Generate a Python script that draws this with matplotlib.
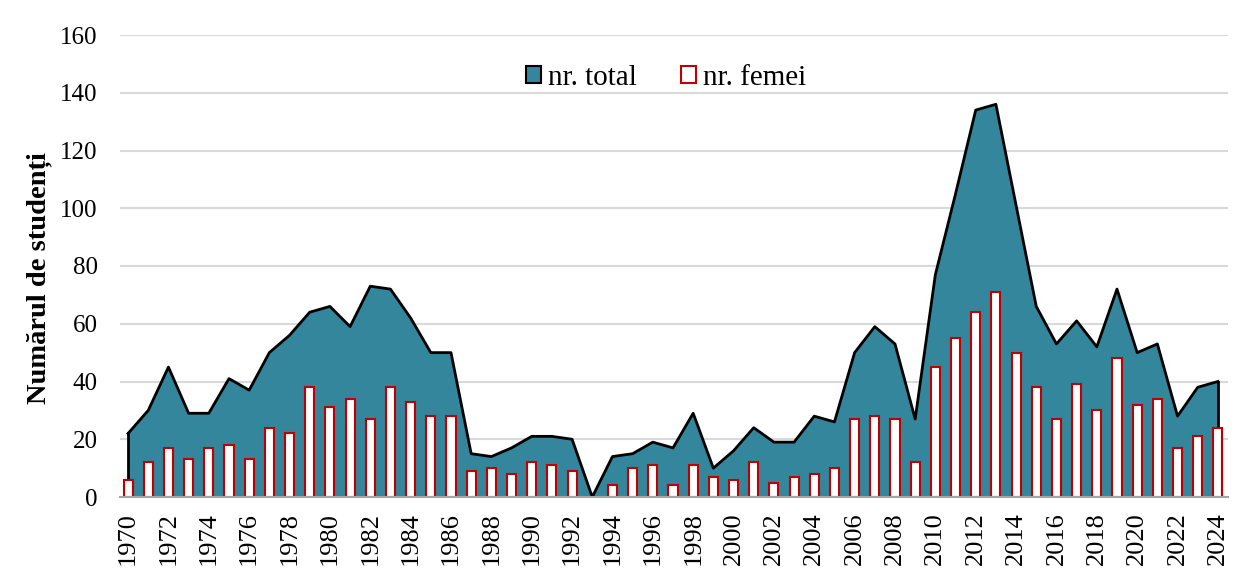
import matplotlib.pyplot as plt
import numpy as np
from matplotlib.patches import Patch

plt.rcParams['font.family'] = ['Liberation Serif', 'DejaVu Serif']

years = np.arange(1970, 2025)
total = [22, 30, 45, 29, 29, 41, 37, 50, 56, 64,
         66, 59, 73, 72, 62, 50, 50, 15, 14, 17,
         21, 21, 20, 0, 14, 15, 19, 17, 29, 10,
         16, 24, 19, 19, 28, 26, 50, 59, 53, 27,
         77, 105, 134, 136, 101, 66, 53, 61, 52, 72,
         50, 53, 28, 38, 40]
femei = [6, 12, 17, 13, 17, 18, 13, 24, 22, 38,
         31, 34, 27, 38, 33, 28, 28, 9, 10, 8,
         12, 11, 9, 0, 4, 10, 11, 4, 11, 7,
         6, 12, 5, 7, 8, 10, 27, 28, 27, 12,
         45, 55, 64, 71, 50, 38, 27, 39, 30, 48,
         32, 34, 17, 21, 24]

teal = '#33869C'
red = '#C00000'

fig = plt.figure(figsize=(12.48, 5.72), dpi=100)
ax = fig.add_axes([120 / 1248, 75 / 572, 1108 / 1248, 462 / 572])

# area for the total, outlined in black
ax.fill_between(years, total, 0, color=teal, zorder=2, linewidth=0)
ax.plot(years, total, color='black', linewidth=2, zorder=3)
ax.plot([years[0], years[0]], [0, total[0]], color='black', linewidth=2, zorder=3)
ax.plot([years[-1], years[-1]], [0, total[-1]], color='black', linewidth=2, zorder=3)
# columns for women
ax.bar(years, femei, width=0.45, color='white', edgecolor=red, linewidth=1.5, zorder=4)

ax.set_xlim(1969.6, 2024.5)
ax.set_ylim(0, 160)
ax.set_yticks(np.arange(0, 161, 20))
ax.set_xticks(years[::2])
ax.set_xticklabels([str(y) for y in years[::2]], rotation=90, fontsize=19)
ax.tick_params(axis='y', labelsize=18, length=0, pad=16)
ax.tick_params(axis='x', length=0, pad=11)
ax.grid(axis='y', color='#D9D9D9', linewidth=1.5, zorder=0)
ax.set_axisbelow(True)
for s in ['top', 'right', 'left']:
    ax.spines[s].set_visible(False)
ax.spines['bottom'].set_color('#A6A6A6')
ax.spines['bottom'].set_linewidth(1.5)
ax.spines['bottom'].set_zorder(5)

ax.set_ylabel('Numărul de studenți', fontsize=20.5, fontweight='bold')
ax.yaxis.set_label_coords(-68 / 1108, 0.474)

handles = [Patch(facecolor=teal, edgecolor='black', linewidth=1.5, label='nr. total'),
           Patch(facecolor='white', edgecolor=red, linewidth=1.5, label='nr. femei')]
ax.legend(handles=handles, loc='center', bbox_to_anchor=(0.493, 0.907), ncol=2,
          frameon=False, fontsize=21, handlelength=0.5, handleheight=0.5,
          handletextpad=0.25, columnspacing=1.5, borderpad=0)

fig.savefig('out.png', dpi=100)
